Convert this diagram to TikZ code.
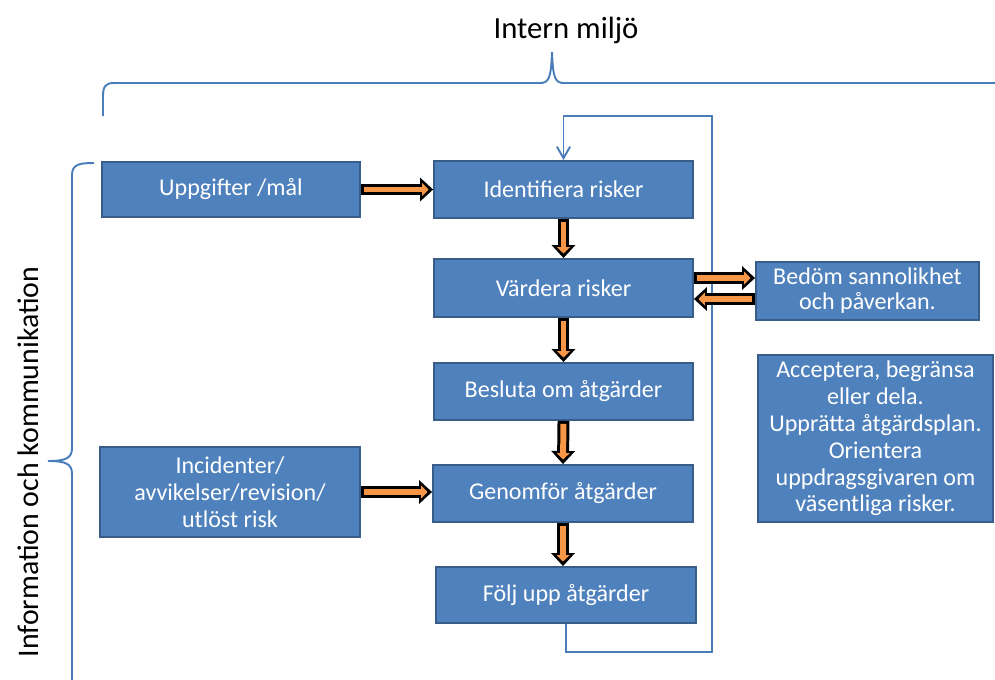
\documentclass[tikz,border=0pt]{standalone}
\usepackage{fontspec}
\setmainfont{Carlito}
\usetikzlibrary{arrows.meta,calc}
\definecolor{boxblue}{HTML}{4F81BD}
\definecolor{boxline}{HTML}{385D8A}
\definecolor{linjeblue}{HTML}{4A7EBB}
\definecolor{pilorange}{HTML}{F79646}
\tikzset{
  ruta/.style={draw=boxline, fill=boxblue, line width=1.1pt, text=white, align=center,
    font=\fontsize{13.7}{15.3}\selectfont, inner sep=2pt},
  klammer/.style={draw=linjeblue, line width=1.1pt},
  retur/.style={draw=linjeblue, line width=1.1pt, -{Straight Barb[length=6.5pt,width=7.5pt]}},
  pilsvart/.style={draw=black, line width=6.8pt, -{Triangle[length=7.4pt,width=13.6pt,line width=0pt]}},
  pilfyll/.style={draw=pilorange, line width=3.4pt, shorten >=2.6pt, shorten <=1.7pt,
    -{Triangle[length=3.6pt,width=7.4pt,line width=0pt]}}
}
\newcommand\tjockpil[2]{\draw[pilsvart] (#1) -- (#2); \draw[pilfyll] (#1) -- (#2);}
\begin{document}
\begin{tikzpicture}[x=0.02cm, y=-0.02cm]
    \useasboundingbox (0,0) rectangle (995,680);
    \node[font=\fontsize{17.5}{20}\selectfont] (titel) at (566,30) {Intern miljö};
    \node[rotate=90, font=\fontsize{17}{20}\selectfont] (sida) at (28,462) {Information och kommunikation};
    \node[ruta, minimum width=5.16cm, minimum height=1.1cm] (upp) at (231,189.5) {Uppgifter /mål};
    \node[ruta, minimum width=5.18cm, minimum height=1.14cm] (ident) at (563.5,189.5) {Identifiera risker};
    \node[ruta, minimum width=5.18cm, minimum height=1.16cm] (vard) at (563.5,288) {Värdera risker};
    \node[ruta, minimum width=5.18cm, minimum height=1.14cm] (besl) at (563.5,391.5) {Besluta om åtgärder};
    \node[ruta, minimum width=5.2cm, minimum height=1.14cm] (genom) at (563,493.5) {Genomför åtgärder};
    \node[ruta, minimum width=5.2cm, minimum height=1.12cm] (folj) at (566,595) {Följ upp åtgärder};
    \node[ruta, minimum width=5.2cm, minimum height=1.8cm] (inc) at (230,492) {Incidenter/\\avvikelser/revision/\\utlöst risk};
    \node[ruta, minimum width=4.46cm, minimum height=1.16cm, font=\fontsize{13.7}{14.2}\selectfont] (bedom) at (867.5,291) {Bedöm sannolikhet\\och påverkan.};
    \node[ruta, minimum width=4.7cm, minimum height=3.34cm] (acc) at (875.5,438.5)
        {Acceptera, begränsa\\eller dela.\\Upprätta åtgärdsplan.\\Orientera\\uppdragsgivaren om\\väsentliga risker.};
    \draw[klammer] (103,116) -- (103,96) .. controls (103,86) and (106,83) .. (114,83) -- (540,83)
        .. controls (549,83) and (551,78) .. (552,52) .. controls (553,78) and (555,83) .. (564,83) -- (1000,83);
    \draw[klammer] (94,163) .. controls (80,163) and (72,164) .. (72,175) -- (72,448)
        .. controls (72,458) and (66,461) .. (48,461) .. controls (66,461) and (72,464) .. (72,474) -- (72,690);
    \coordinate (varv1) at (712,652);
    \coordinate (varv2) at (712,116);
    \draw[retur] (folj.south) |- (varv1) -- (varv2) -| (ident.north);
    \coordinate (ut1) at ($(vard.east)+(0,-10)$);
    \coordinate (ut2) at (ut1 -| bedom.west);
    \coordinate (in1) at ($(vard.east)+(0,11)$);
    \coordinate (in2) at (in1 -| bedom.west);
    \tjockpil{upp.east}{ident.west}
    \tjockpil{ident.south}{vard.north}
    \tjockpil{vard.south}{besl.north}
    \tjockpil{besl.south}{genom.north}
    \tjockpil{genom.south}{genom.south |- folj.north}
    \tjockpil{inc.east}{inc.east -| genom.west}
    \tjockpil{ut1}{ut2}
    \tjockpil{in2}{in1}
\end{tikzpicture}
\end{document}
